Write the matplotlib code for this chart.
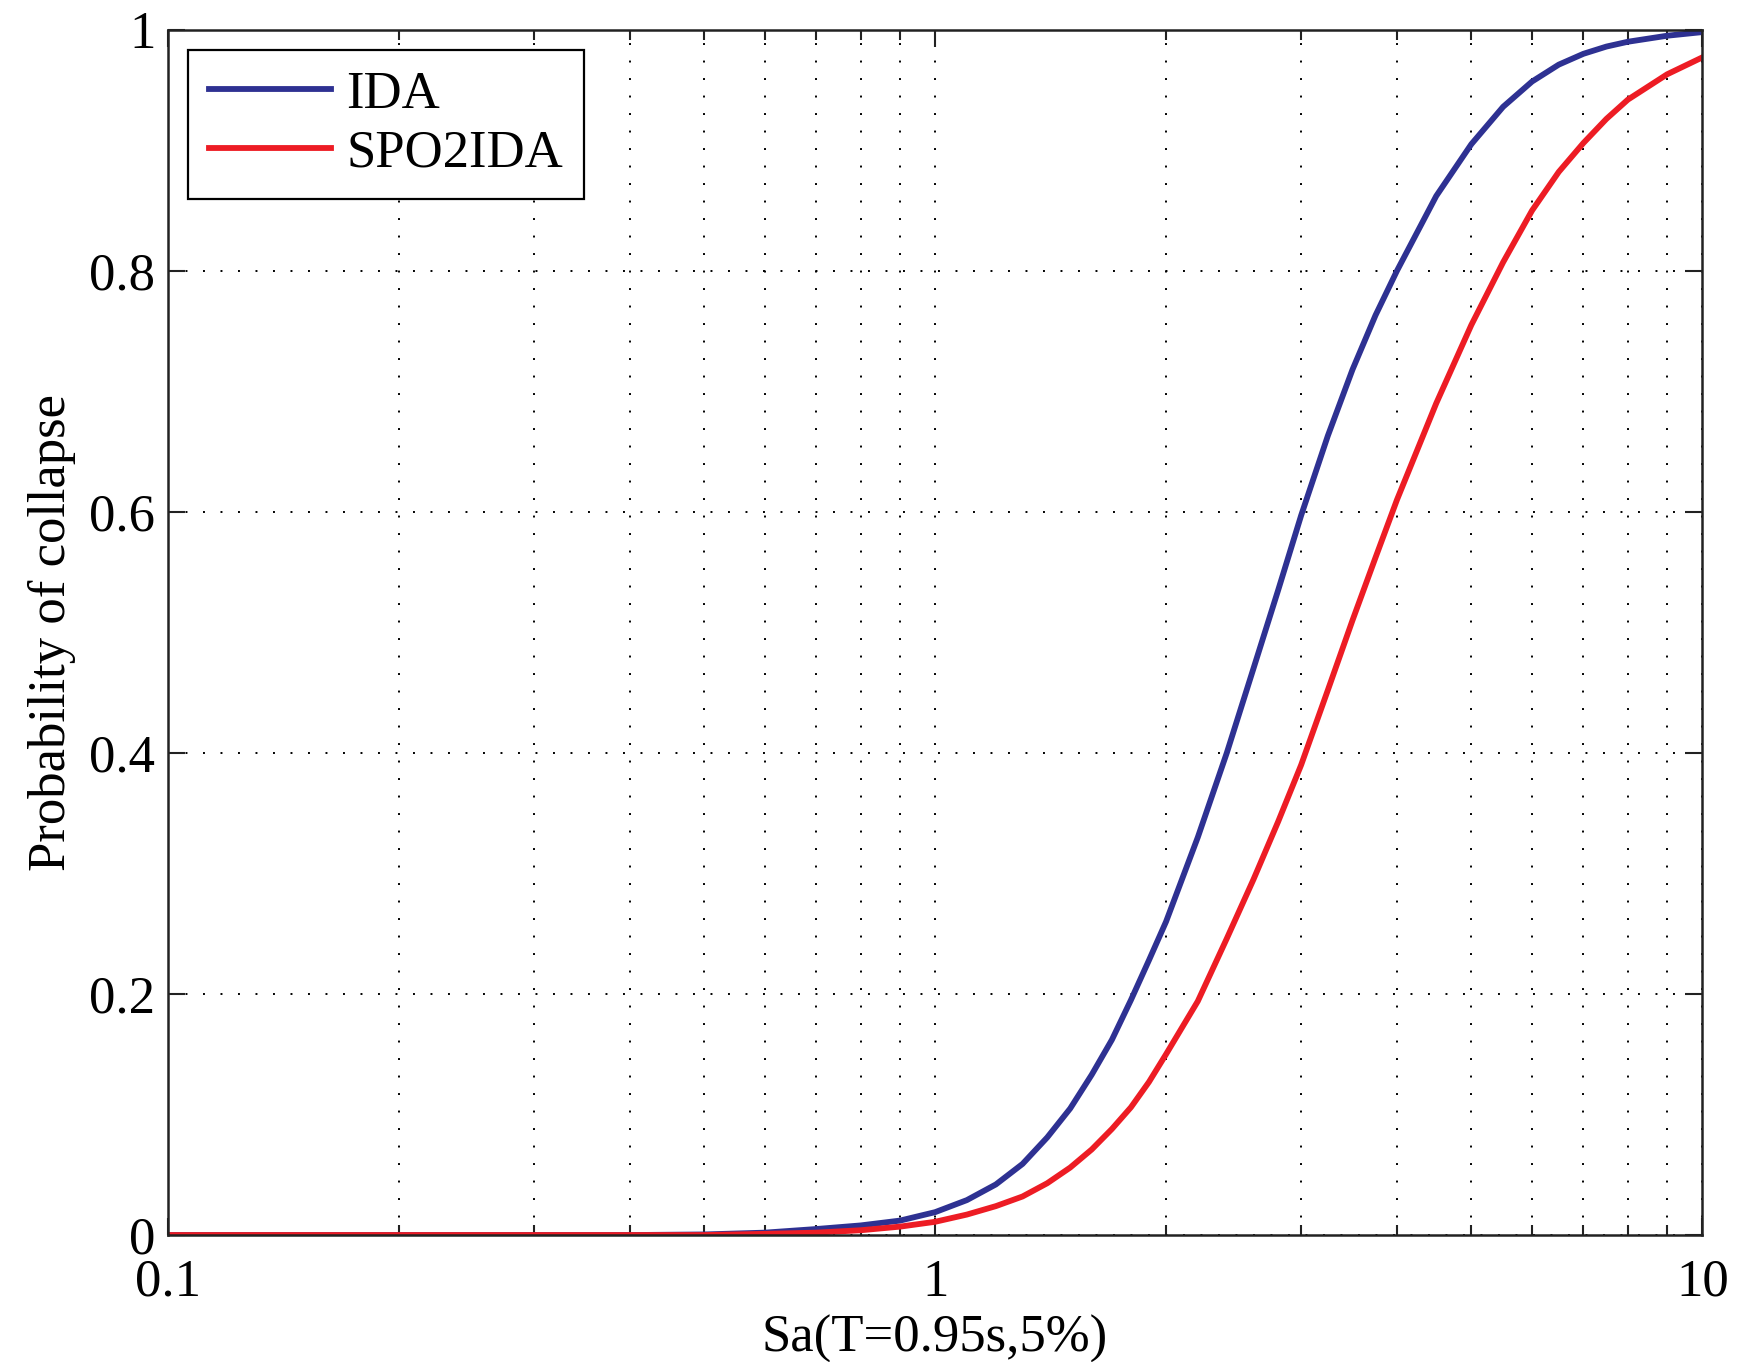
import numpy as np
import matplotlib.pyplot as plt
from matplotlib.ticker import LogLocator, NullFormatter, FixedLocator

plt.rcParams['font.family'] = ['Liberation Serif', 'DejaVu Serif']

# spectral acceleration samples and collapse fragility values
sa = [0.1, 0.2, 0.3, 0.4, 0.5, 0.6, 0.7, 0.8, 0.9, 1.0, 1.1, 1.2, 1.3, 1.4,
      1.5, 1.6, 1.7, 1.8, 1.9, 2.0, 2.2, 2.4, 2.6, 2.8, 3.0, 3.25, 3.5, 3.75,
      4.0, 4.5, 5.0, 5.5, 6.0, 6.5, 7.0, 7.5, 8.0, 9.0, 10.0]
p_ida = [0.0, 0.0, 0.0, 0.0, 0.0005, 0.002, 0.005, 0.008, 0.012, 0.019,
         0.029, 0.042, 0.059, 0.081, 0.105, 0.133, 0.162, 0.195, 0.228, 0.26,
         0.33, 0.40, 0.47, 0.535, 0.597, 0.663, 0.718, 0.763, 0.80, 0.862,
         0.905, 0.936, 0.957, 0.971, 0.980, 0.986, 0.990, 0.995, 0.998]
p_spo = [0.0, 0.0, 0.0, 0.0, 0.0, 0.001, 0.002, 0.004, 0.007, 0.011,
         0.017, 0.024, 0.032, 0.043, 0.056, 0.071, 0.088, 0.106, 0.127, 0.15,
         0.194, 0.246, 0.295, 0.343, 0.39, 0.452, 0.51, 0.562, 0.61, 0.69,
         0.755, 0.807, 0.85, 0.882, 0.906, 0.926, 0.942, 0.963, 0.977]

blue = '#2E3192'
red = '#ED1C24'
fs = 38

fig = plt.figure(figsize=(17.37, 13.62), dpi=100)
ax = fig.add_axes([0.0967, 0.0932, 0.8833, 0.885])

ax.plot(sa, p_ida, color=blue, lw=4.2, label='IDA')
ax.plot(sa, p_spo, color=red, lw=4.2, label='SPO2IDA')

ax.set_xscale('log')
ax.set_xlim(0.1, 10)
ax.set_ylim(0, 1)
ax.xaxis.set_major_locator(FixedLocator([0.1, 1, 10]))
ax.xaxis.set_minor_locator(LogLocator(base=10, subs=np.arange(2, 10)))
ax.xaxis.set_minor_formatter(NullFormatter())
ax.set_xticklabels(['0.1', '1', '10'])
ax.set_yticks([0, 0.2, 0.4, 0.6, 0.8, 1])
ax.set_yticklabels(['0', '0.2', '0.4', '0.6', '0.8', '1'])

# matlab-style dotted grid, minor lines only along the log axis
dots = (0, (1, 8))
ax.grid(True, which='major', axis='both', color='black', lw=1.4, linestyle=dots)
ax.grid(True, which='minor', axis='x', color='black', lw=1.4, linestyle=dots)
ax.set_axisbelow(True)

ax.tick_params(which='both', direction='in', top=True, right=True,
               labelsize=fs, width=1.5, color='#222222')
ax.tick_params(which='major', length=12)
ax.tick_params(which='minor', length=7)
ax.tick_params(axis='x', pad=17)
ax.tick_params(axis='y', pad=9)
for s in ax.spines.values():
    s.set_linewidth(1.8)
    s.set_color('#222222')

ax.set_xlabel('Sa(T=0.95s,5%)', fontsize=fs, labelpad=6)
ax.set_ylabel('Probability of collapse', fontsize=fs, labelpad=10)

leg = ax.legend(loc='upper left', fontsize=fs, handlelength=2.3,
                handletextpad=0.3, labelspacing=0.2, borderpad=0.4,
                borderaxespad=0.38, fancybox=False, framealpha=1)
leg.get_frame().set_edgecolor('black')
leg.get_frame().set_linewidth(1.6)

fig.savefig('out.png', dpi=100)
